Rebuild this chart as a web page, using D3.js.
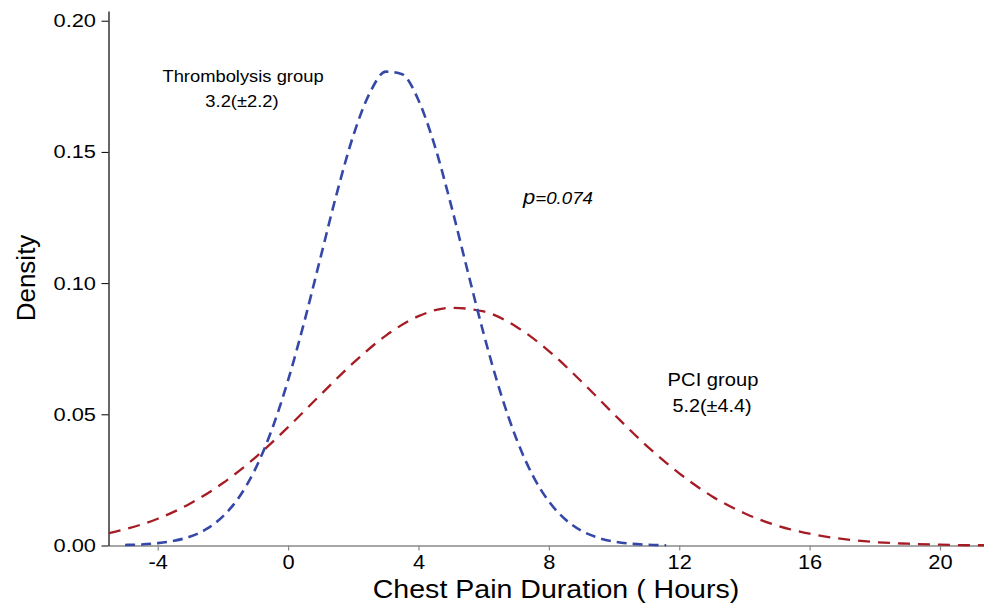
<!DOCTYPE html>
<html>
<head>
<meta charset="utf-8">
<script src="https://cdn.jsdelivr.net/npm/d3@7"></script>
<style>
  body { margin: 0; background: #fff; }
  text { font-family: "Liberation Sans", Arial, sans-serif; fill: #000; }
</style>
</head>
<body>
<div id="chart"></div>
<script>
// density curves
const thrombX = [-5, -4.5, -4, -3.5, -3, -2.5, -2, -1.5, -1, -0.5, 0, 0.5, 1, 1.5, 2, 2.5, 3, 3.5, 4, 4.5, 5, 5.5, 6, 6.5, 7, 7.5, 8, 8.5, 9, 9.5, 10, 10.5, 11, 11.6];
const thrombY = [0.0002, 0.0004, 0.0009, 0.0018, 0.0034, 0.0063, 0.0111, 0.0185, 0.0293, 0.0441, 0.0630, 0.0854, 0.1100, 0.1345, 0.1562, 0.1723, 0.1806, 0.1796, 0.1697, 0.1523, 0.1297, 0.1050, 0.0807, 0.0589, 0.0408, 0.0268, 0.0168, 0.0100, 0.0056, 0.0030, 0.0015, 0.0007, 0.0003, 0.0001];

const pciX = [-5.5, -5, -4, -3, -2, -1, 0, 1, 2, 3, 4, 5, 6, 7, 8, 9, 10, 11, 12, 13, 14, 15, 16, 17, 18, 19, 20, 21, 21.4];
const pciY = [0.0047, 0.0062, 0.0102, 0.0160, 0.0238, 0.0336, 0.0451, 0.0575, 0.0696, 0.0800, 0.0874, 0.0906, 0.0892, 0.0834, 0.0741, 0.0625, 0.0500, 0.0380, 0.0275, 0.0188, 0.0123, 0.0076, 0.0045, 0.0025, 0.0013, 0.0007, 0.0003, 0.0001, 0.0001];

const xTicks = [-4, 0, 4, 8, 12, 16, 20];
const yTicks = [0, 0.05, 0.10, 0.15, 0.20];

const w = 984, h = 603;
const margin = {left: 108.5, top: 11, right: 0, bottom: 57.5};

const svg = d3.select("#chart").append("svg")
    .attr("width", w)
    .attr("height", h);

const xScale = d3.scaleLinear().domain([-5.51, 21.35]).range([margin.left, w - margin.right]);
const yScale = d3.scaleLinear().domain([0, 0.2037]).range([h - margin.bottom, margin.top]);

// the source text looks a little wide, so stretch it horizontally
function addText(x, y, str, size, stretch, anchor) {
    return svg.append("text")
        .attr("transform", "translate(" + x + "," + y + ") scale(" + stretch + ",1)")
        .style("text-anchor", anchor || "middle")
        .style("font-size", size + "px")
        .text(str);
}

// x axis (grey)
const xAxis = svg.append("g")
    .attr("transform", "translate(0," + (h - margin.bottom) + ")")
    .call(d3.axisBottom(xScale).tickValues(xTicks).tickSize(5).tickSizeOuter(0)
        .tickFormat(d => String(d)));
xAxis.select(".domain").attr("stroke", "#888").attr("stroke-width", 1.5);
xAxis.selectAll(".tick line").attr("stroke", "#888").attr("stroke-width", 1.2);
xAxis.selectAll(".tick text")
    .attr("y", 9.5)
    .attr("transform", "scale(1.12,1)")
    .style("font-size", "19.5px")
    .style("font-family", "Liberation Sans, Arial, sans-serif")
    .attr("fill", "#000");

// y axis (black)
const yAxis = svg.append("g")
    .attr("transform", "translate(" + margin.left + ",0)")
    .call(d3.axisLeft(yScale).tickValues(yTicks).tickSize(7).tickSizeOuter(0).tickFormat(d3.format(".2f")));
yAxis.select(".domain").attr("stroke", "#000").attr("stroke-width", 1.2);
yAxis.selectAll(".tick line").attr("stroke", "#000").attr("stroke-width", 1);
yAxis.selectAll(".tick text")
    .attr("x", -12.5 / 1.18)
    .attr("transform", "scale(1.18,1)")
    .style("font-size", "18.5px")
    .style("font-family", "Liberation Sans, Arial, sans-serif")
    .attr("fill", "#000");

// axis titles
svg.append("text")
    .attr("transform", "translate(35,278) rotate(-90)")
    .style("text-anchor", "middle")
    .style("font-size", "26px")
    .text("Density");

addText(556, 598, "Chest Pain Duration ( Hours)", 25.5, 1.12);

// curves
const line = d3.line()
    .x(d => xScale(d[0]))
    .y(d => yScale(d[1]))
    .curve(d3.curveMonotoneX);

svg.append("path")
    .datum(pciX.map((x, i) => [x, pciY[i]]))
    .attr("d", line)
    .attr("fill", "none")
    .attr("stroke", "#a51c24")
    .attr("stroke-width", 2.3)
    .attr("stroke-dasharray", "12,8");

svg.append("path")
    .datum(thrombX.map((x, i) => [x, thrombY[i]]))
    .attr("d", line)
    .attr("fill", "none")
    .attr("stroke", "#3548a8")
    .attr("stroke-width", 2.6)
    .attr("stroke-dasharray", "10,6");

// annotations
addText(243, 82, "Thrombolysis group", 17, 1.08);
addText(242, 107, "3.2(\u00b12.2)", 17, 1.08);
addText(713, 386, "PCI group", 18, 1.12);
addText(712, 412, "5.2(\u00b14.4)", 18, 1.1);

const pText = addText(523, 204, "", 17, 1.1, "start")
    .style("font-style", "italic");
pText.append("tspan").style("font-size", "20px").text("p");
pText.append("tspan").text("=0.074");
</script>
</body>
</html>
